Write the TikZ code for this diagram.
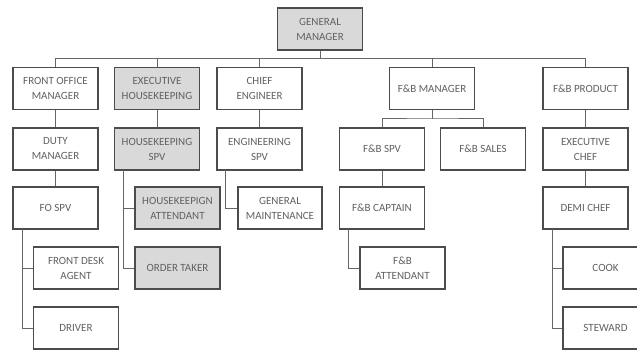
\documentclass[tikz,border=0pt]{standalone}
\usepackage{fontspec}
\setmainfont{Carlito}
\begin{document}
\begin{tikzpicture}[x=1pt,y=-1pt,
  box/.style={draw=black!70, line width=1.2pt, fill=white, text=black!62,
    inner sep=1pt, align=center, font=\fontsize{11}{15}\selectfont,
    minimum width=85pt, minimum height=42pt},
  gbox/.style={box, fill=black!15},
  conn/.style={draw=black!60, line width=1pt}]
\path[use as bounding box, clip] (0,0) rectangle (637,350);
\fill[white] (0,0) rectangle (637,350);
% nodes
\node[gbox] (gm) at (320,29) {GENERAL\\MANAGER};
\node[box] (fom) at (55.5,88.5) {FRONT OFFICE\\MANAGER};
\node[gbox] (exh) at (157,88.5) {EXECUTIVE\\HOUSEKEEPING};
\node[box] (che) at (259.5,88.5) {CHIEF\\ENGINEER};
\node[box] (fbm) at (432,88.5) {F\&B MANAGER};
\node[box] (fbp) at (585.5,88.5) {F\&B PRODUCT};
\node[box] (dm) at (55.5,149) {DUTY\\MANAGER};
\node[gbox] (hks) at (157,149) {HOUSEKEEPING\\SPV};
\node[box] (eng) at (259.5,149) {ENGINEERING\\SPV};
\node[box] (fbs) at (382,149) {F\&B SPV};
\node[box] (fbsl) at (483,149) {F\&B SALES};
\node[box] (ec) at (585.5,149) {EXECUTIVE\\CHEF};
\node[box] (fos) at (55.5,208) {FO SPV};
\node[gbox] (hka) at (177.5,208) {HOUSEKEEPIGN\\ATTENDANT};
\node[box, minimum width=84pt] (gmn) at (280,208) {GENERAL\\MAINTENANCE};
\node[box] (fbc) at (382,208) {F\&B CAPTAIN};
\node[box] (dc) at (585.5,208) {DEMI CHEF};
\node[box] (fda) at (76,268) {FRONT DESK\\AGENT};
\node[gbox] (ot) at (177.5,268) {ORDER TAKER};
\node[box] (fba) at (402.5,268) {F\&B\\ATTENDANT};
\node[box] (cook) at (605.5,268) {COOK};
\node[box] (stw) at (605.5,328) {STEWARD};
\node[box] (drv) at (76,328) {DRIVER};
% connectors
\coordinate (bus) at (320,59);
\path[conn] (gm.south) -- (bus);
\path[conn] (fom.north) |- (fbp.north |- bus) -- (fbp.north);
\path[conn] (exh.north) -- (exh.north |- bus);
\path[conn] (che.north) -- (che.north |- bus);
\path[conn] (fbm.north) -- (fbm.north |- bus);
\path[conn] (fom) -- (dm);
\path[conn] (dm) -- (fos);
\path[conn] (exh) -- (hks);
\path[conn] (che) -- (eng);
\path[conn] (fbp) -- (ec);
\path[conn] (ec) -- (dc);
\path[conn] (fbs) -- (fbc);
% F&B manager split
\coordinate (fsp) at (432,119);
\path[conn] (fbm.south) -- (fsp);
\path[conn] (fbs.north) |- (fsp) -| (fbsl.north);
% side branches
\coordinate (a1) at (22,229);
\path[conn] (a1) |- (drv.west);
\path[conn] (a1 |- fda.west) -- (fda.west);
\coordinate (a2) at (123,170);
\path[conn] (a2) |- (ot.west);
\path[conn] (a2 |- hka.west) -- (hka.west);
\coordinate (a3) at (225,170);
\path[conn] (a3) |- (gmn.west);
\coordinate (a4) at (348,229);
\path[conn] (a4) |- (fba.west);
\coordinate (a5) at (552,229);
\path[conn] (a5) |- (stw.west);
\path[conn] (a5 |- cook.west) -- (cook.west);
\end{tikzpicture}
\end{document}
